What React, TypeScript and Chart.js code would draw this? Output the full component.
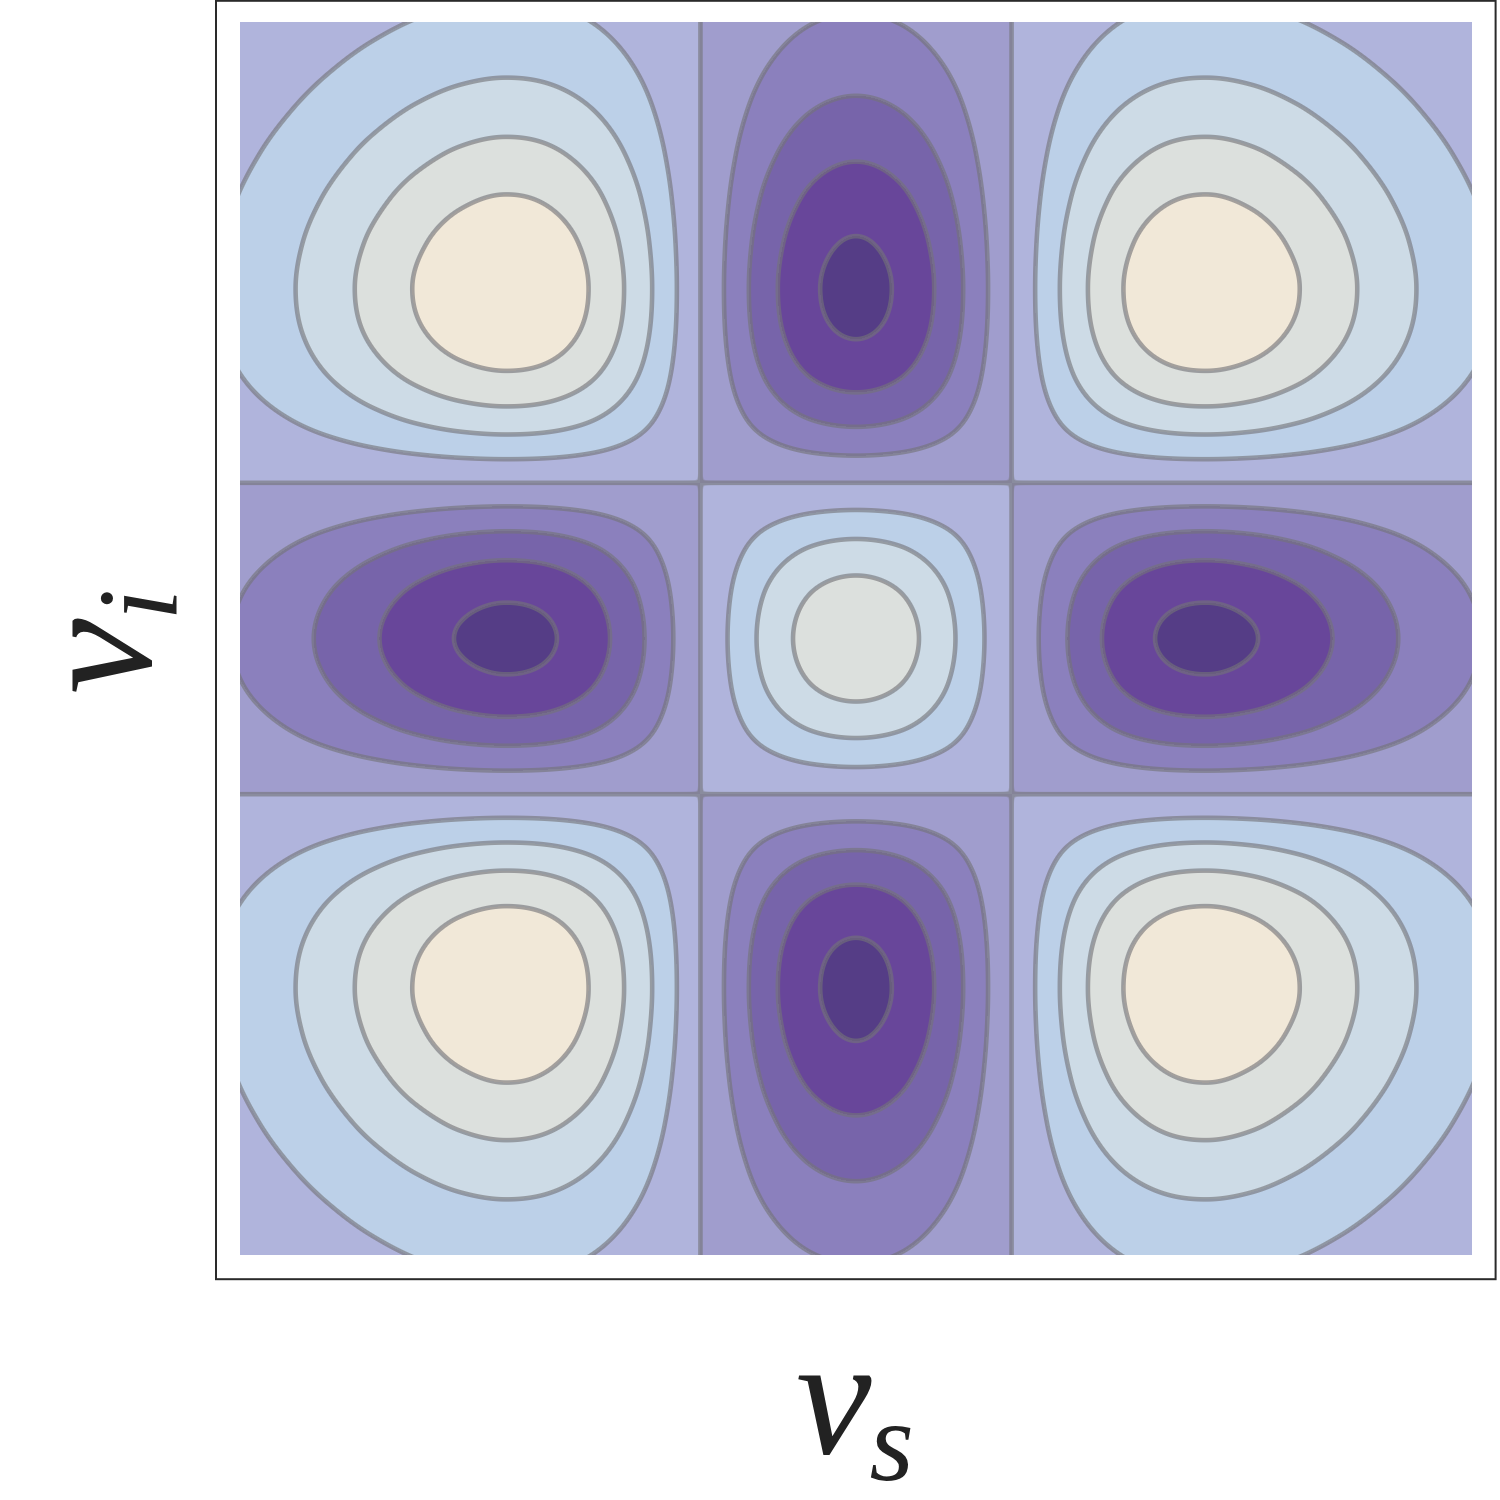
import { useEffect, useRef } from "react";
import { Chart, registerables } from "chart.js";

Chart.register(...registerables);

// Axis range (both ν_s and ν_i)
const nuMin = -2.8;
const nuMax = 2.8;

// Sampled one-dimensional mode profile (same along ν_s and ν_i)
const sampleNu = [
  -3.0, -2.8, -2.6, -2.4, -2.2, -2.0, -1.8, -1.6, -1.4, -1.2, -1.0, -0.8, -0.6, -0.4, -0.2,
  0.0, 0.2, 0.4, 0.6, 0.8, 1.0, 1.2, 1.4, 1.6, 1.8, 2.0, 2.2, 2.4, 2.6, 2.8, 3.0,
];
const modeProfile = [
  0.3651, 0.5632, 0.8242, 1.1418, 1.4923, 1.8317, 2.0968, 2.2148, 2.1189, 1.7693, 1.1727,
  0.3931, -0.4522, -1.2137, -1.7436, -1.9335, -1.7436, -1.2137, -0.4522, 0.3931, 1.1727,
  1.7693, 2.1189, 2.2148, 2.0968, 1.8317, 1.4923, 1.1418, 0.8242, 0.5632, 0.3651,
];

// Contour levels and the fill colour of each band (lowest band first)
const contourLevels = [-4, -3, -2, -1, 0, 1, 2, 3, 4];
const bandColors = [
  "#553d86",
  "#68469a",
  "#7764aa",
  "#8b80bd",
  "#a09dcd",
  "#b0b4dc",
  "#bcd0e8",
  "#cddbe6",
  "#dce0dd",
  "#f1e8d8",
];
const contourLineColor = [115, 115, 120];
const contourLineAlpha = 0.62;
const contourLineWidth = 4.6;

// Axis labels
const xLabelMain = "ν";
const xLabelSub = "s";
const yLabelMain = "ν";
const yLabelSub = "i";

function hexToRgb(h: string): number[] {
  const n = parseInt(h.slice(1), 16);
  return [(n >> 16) & 255, (n >> 8) & 255, n & 255];
}

function evalProfile(x: number): number {
  const step = sampleNu[1] - sampleNu[0];
  const n = modeProfile.length;
  let f = (x - sampleNu[0]) / step;
  let i = Math.floor(f);
  if (i < 0) i = 0;
  if (i > n - 2) i = n - 2;
  const t = f - i;
  const p0 = modeProfile[Math.max(i - 1, 0)];
  const p1 = modeProfile[i];
  const p2 = modeProfile[i + 1];
  const p3 = modeProfile[Math.min(i + 2, n - 1)];
  return (
    0.5 *
    (2 * p1 +
      (-p0 + p2) * t +
      (2 * p0 - 5 * p1 + 4 * p2 - p3) * t * t +
      (-p0 + 3 * p1 - 3 * p2 + p3) * t * t * t)
  );
}

const contourPlugin = {
  id: "contourFill",
  beforeDatasetsDraw(chart: any) {
    const { ctx, chartArea, scales } = chart;
    const xs = scales.x;
    const ys = scales.y;
    const left = Math.round(chartArea.left);
    const top = Math.round(chartArea.top);
    const W = Math.round(chartArea.right) - left;
    const H = Math.round(chartArea.bottom) - top;
    const colV = new Float64Array(W);
    const colD = new Float64Array(W);
    for (let c = 0; c < W; c++) {
      const px = left + c + 0.5;
      colV[c] = evalProfile(xs.getValueForPixel(px));
      colD[c] = evalProfile(xs.getValueForPixel(px + 0.5)) - evalProfile(xs.getValueForPixel(px - 0.5));
    }
    const rowV = new Float64Array(H);
    const rowD = new Float64Array(H);
    for (let r = 0; r < H; r++) {
      const py = top + r + 0.5;
      rowV[r] = evalProfile(ys.getValueForPixel(py));
      rowD[r] = evalProfile(ys.getValueForPixel(py + 0.5)) - evalProfile(ys.getValueForPixel(py - 0.5));
    }
    const bands = bandColors.map(hexToRgb);
    const off = document.createElement("canvas");
    off.width = W;
    off.height = H;
    const octx = off.getContext("2d")!;
    const img = octx.createImageData(W, H);
    const data = img.data;
    const half = contourLineWidth / 2;
    const nL = contourLevels.length;
    for (let r = 0; r < H; r++) {
      const rv = rowV[r];
      const rd = rowD[r];
      for (let c = 0; c < W; c++) {
        const cv = colV[c];
        const z = cv * rv;
        const gx = colD[c] * rv;
        const gy = cv * rd;
        const g = Math.sqrt(gx * gx + gy * gy) + 1e-9;
        let band = 0;
        let best = Infinity;
        for (let k = 0; k < nL; k++) {
          const L = contourLevels[k];
          if (z > L) band = k + 1;
          const dd = Math.abs(z - L);
          if (dd < best) best = dd;
        }
        const d = best / g;
        let cov = half + 0.5 - d;
        if (cov < 0) cov = 0;
        if (cov > 1) cov = 1;
        const a = cov * contourLineAlpha;
        const b = bands[band];
        const o = (r * W + c) * 4;
        data[o] = b[0] * (1 - a) + contourLineColor[0] * a;
        data[o + 1] = b[1] * (1 - a) + contourLineColor[1] * a;
        data[o + 2] = b[2] * (1 - a) + contourLineColor[2] * a;
        data[o + 3] = 255;
      }
    }
    octx.putImageData(img, 0, 0);
    ctx.save();
    ctx.drawImage(off, left, top);
    ctx.restore();
  },
  afterDraw(chart: any) {
    const { ctx } = chart;
    ctx.save();
    // frame
    ctx.strokeStyle = "#2a2a2a";
    ctx.lineWidth = 2;
    ctx.strokeRect(216, 0.8, 1279.6, 1278.4);

    const mainFont = 'italic 170px "Liberation Serif", "DejaVu Serif", serif';
    const subFont = 'italic 114px "Liberation Serif", "DejaVu Serif", serif';
    ctx.fillStyle = "#222222";
    ctx.textBaseline = "alphabetic";
    ctx.textAlign = "left";

    const drawLabel = (main: string, sub: string) => {
      ctx.font = mainFont;
      const wm = ctx.measureText(main).width;
      ctx.font = subFont;
      const ws = ctx.measureText(sub).width;
      const total = wm + ws;
      ctx.font = mainFont;
      ctx.fillText(main, -total / 2, 0);
      ctx.font = subFont;
      ctx.fillText(sub, -total / 2 + wm - 2, 27);
    };

    // x label (bottom)
    const cx = (chart.chartArea.left + chart.chartArea.right) / 2;
    ctx.save();
    ctx.translate(cx, 1453);
    drawLabel(xLabelMain, xLabelSub);
    ctx.restore();

    // y label (left, rotated)
    const cy = (chart.chartArea.top + chart.chartArea.bottom) / 2;
    ctx.save();
    ctx.translate(150, cy + 2);
    ctx.rotate(-Math.PI / 2);
    drawLabel(yLabelMain, yLabelSub);
    ctx.restore();

    ctx.restore();
  },
};

export default function App() {
  const ref = useRef<HTMLCanvasElement | null>(null);
  useEffect(() => {
    if (!ref.current) return;
    const chart = new Chart(ref.current, {
      type: "scatter",
      data: { datasets: [{ data: [], pointRadius: 0 }] },
      options: {
        animation: false,
        responsive: false,
        maintainAspectRatio: false,
        events: [],
        layout: { padding: { left: 240, top: 22, right: 28, bottom: 245 } },
        plugins: { legend: { display: false }, tooltip: { enabled: false }, title: { display: false } },
        scales: {
          x: { type: "linear", min: nuMin, max: nuMax, display: false },
          y: { type: "linear", min: nuMin, max: nuMax, display: false },
        },
      },
      plugins: [contourPlugin],
    });
    return () => chart.destroy();
  }, []);
  return (
    <div style={{ position: "absolute", left: 0, top: 0, width: 1500, height: 1500, background: "#ffffff" }}>
      <canvas ref={ref} width={1500} height={1500} style={{ width: 1500, height: 1500, display: "block" }} />
    </div>
  );
}
